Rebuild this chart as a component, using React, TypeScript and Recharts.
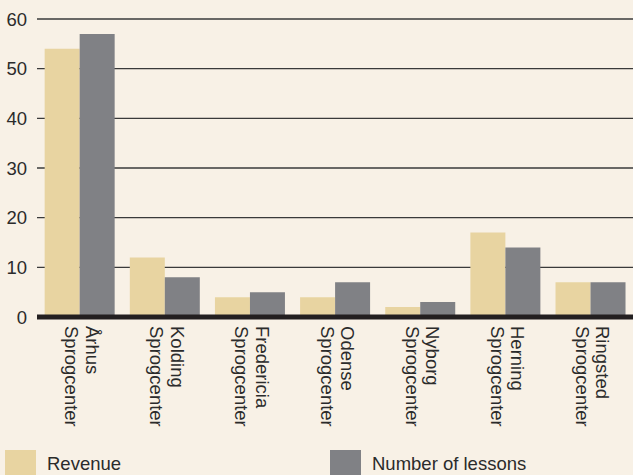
import React from "react";
import { BarChart, Bar, XAxis, YAxis, CartesianGrid } from "recharts";

const line1 = ["Århus", "Kolding", "Fredericia", "Odense", "Nyborg", "Herning", "Ringsted"];
const line2 = ["Sprogcenter", "Sprogcenter", "Sprogcenter", "Sprogcenter", "Sprogcenter", "Sprogcenter", "Sprogcenter"];
const revenue = [54, 12, 4, 4, 2, 17, 7];
const lessons = [57, 8, 5, 7, 3, 14, 7];
const yTicks = [0, 10, 20, 30, 40, 50, 60];

const data = line1.map((n, i) => ({ name: n, sub: line2[i], revenue: revenue[i], lessons: lessons[i] }));

const BG = "#f8f1e6";
const TAN = "#e8d4a1";
const GREY = "#808185";
const TXT = "#2b2b2b";
const FONT = "'Liberation Sans', Arial, Helvetica, sans-serif";

const Tick = (props: any) => {
  const { x, y, payload, index } = props;
  const i = index ?? line1.indexOf(payload.value);
  return (
    <g transform={`translate(${x},${y + 1}) rotate(90)`}>
      <text x={0} y={0} textAnchor="start" fill={TXT} fontSize={18.5} fontFamily={FONT}>
        <tspan x={0} dy={-6}>{payload.value}</tspan>
        <tspan x={0} dy={20.5}>{line2[i] ?? "Sprogcenter"}</tspan>
      </text>
    </g>
  );
};

export default function App() {
  return (
    <div style={{ position: "absolute", left: 0, top: 0, width: 633, height: 475, background: BG, overflow: "hidden", fontFamily: FONT }}>
      <BarChart
        width={633}
        height={475}
        data={data}
        margin={{ top: 19, right: 0, bottom: 0, left: 0 }}
        barCategoryGap="9%"
        barGap={0}
      >
        <CartesianGrid vertical={false} stroke="#3a3a3a" strokeWidth={1.3} />
        <YAxis
          width={37}
          domain={[0, 60]}
          ticks={yTicks}
          axisLine={false}
          tickLine={false}
          tickSize={0}
          tickMargin={10}
          tick={{ fill: TXT, fontSize: 18.5, fontFamily: FONT }}
        />
        <XAxis
          dataKey="name"
          height={158}
          axisLine={{ stroke: "#231f20", strokeWidth: 5 }}
          tickLine={false}
          tick={<Tick />}
          interval={0}
        />
        <Bar dataKey="revenue" fill={TAN} isAnimationActive={false} />
        <Bar dataKey="lessons" fill={GREY} isAnimationActive={false} />
      </BarChart>
      <div style={{ position: "absolute", left: 5, top: 450, width: 31, height: 25, background: TAN }} />
      <div style={{ position: "absolute", left: 47, top: 453, fontSize: 18.5, color: TXT, lineHeight: "22px" }}>Revenue</div>
      <div style={{ position: "absolute", left: 330, top: 450, width: 31, height: 25, background: GREY }} />
      <div style={{ position: "absolute", left: 372, top: 453, fontSize: 18.5, color: TXT, lineHeight: "22px" }}>Number of lessons</div>
    </div>
  );
}
